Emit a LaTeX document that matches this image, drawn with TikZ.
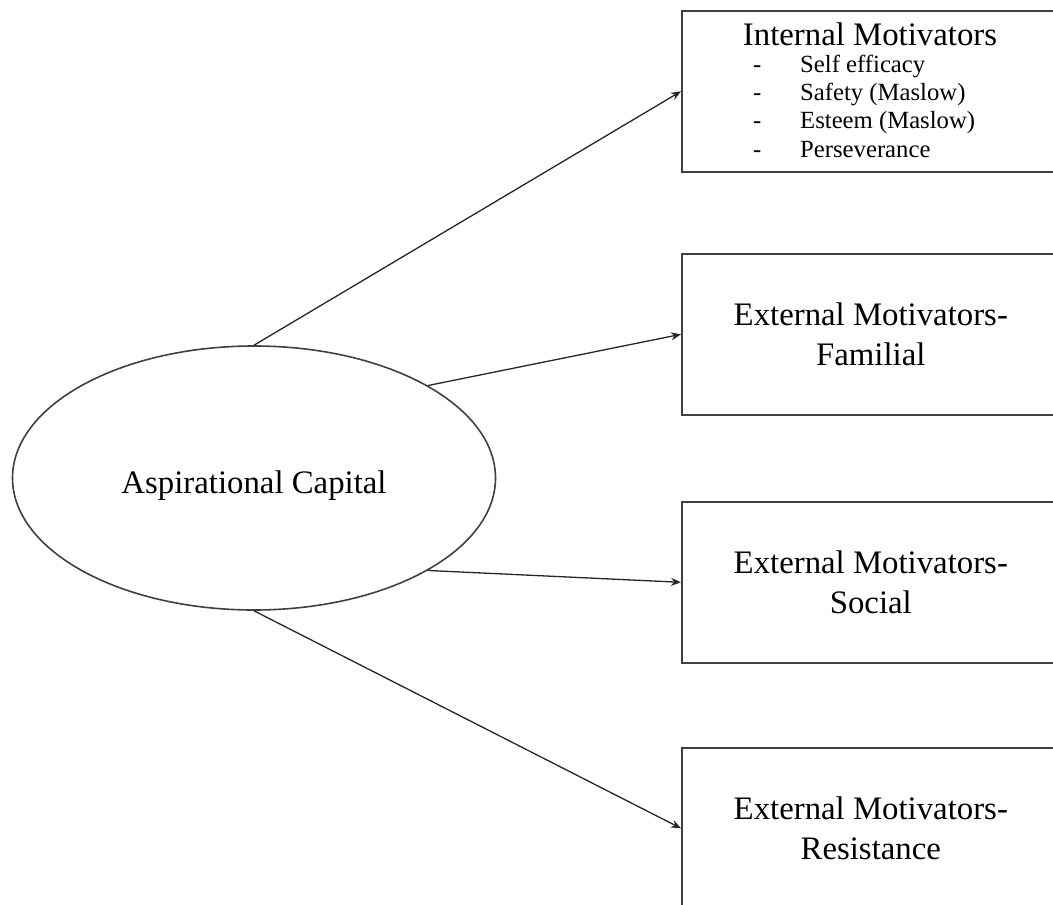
\documentclass[tikz,border=0pt]{standalone}
\usepackage{fontspec}
\setmainfont{Liberation Serif}
\usetikzlibrary{shapes.geometric,arrows.meta}
\begin{document}
\begin{tikzpicture}[x=1pt,y=-1pt,
  outline/.style={draw=black!75, line width=1.6pt},
  box/.style={outline, rectangle, minimum width=378pt, minimum height=161pt,
    anchor=north west, inner sep=0pt, align=center,
    font=\fontsize{32.8}{40}\selectfont},
  conn/.style={draw=black!85, line width=1.3pt, -{Stealth[length=10pt,width=8pt]}},
  item/.style={anchor=base west, inner sep=0pt, font=\fontsize{24.7}{28}\selectfont},
  title/.style={anchor=base, inner sep=0pt, font=\fontsize{32.8}{40}\selectfont}]
\useasboundingbox (0,0) rectangle (1053,905);
\clip (0,0) rectangle (1053,905);

% central ellipse
\node[outline, ellipse, minimum width=483pt, minimum height=264pt, inner sep=0pt,
  text height=30pt, text depth=0pt, font=\fontsize{32.8}{40}\selectfont]
  (ac) at (254,478) {Aspirational Capital};

% boxes
\node[box] (b1) at (681,10) {};
\node[box] (b2) at (681,253) {External Motivators-\\Familial};
\node[box] (b3) at (681,501) {External Motivators-\\Social};
\node[box] (b4) at (681,747) {External Motivators-\\Resistance};

% contents of box 1
\node[title] (t1) at (870,45) {Internal Motivators};
\node[item] (d1) at (753,72) {-};
\node[item] (d2) at (753,100) {-};
\node[item] (d3) at (753,128) {-};
\node[item] (d4) at (753,157) {-};
\node[item] (i1) at (800,72) {Self efficacy};
\node[item] (i2) at (800,100) {Safety (Maslow)};
\node[item] (i3) at (800,128) {Esteem (Maslow)};
\node[item] (i4) at (800,157) {Perseverance};

% connectors
\draw[conn] (ac.north) -- (b1.west);
\draw[conn] (ac.28.5) -- (b2.west);
\draw[conn] (ac.-28) -- (b3.west);
\draw[conn] (ac.south) -- (b4.west);
\end{tikzpicture}
\end{document}
